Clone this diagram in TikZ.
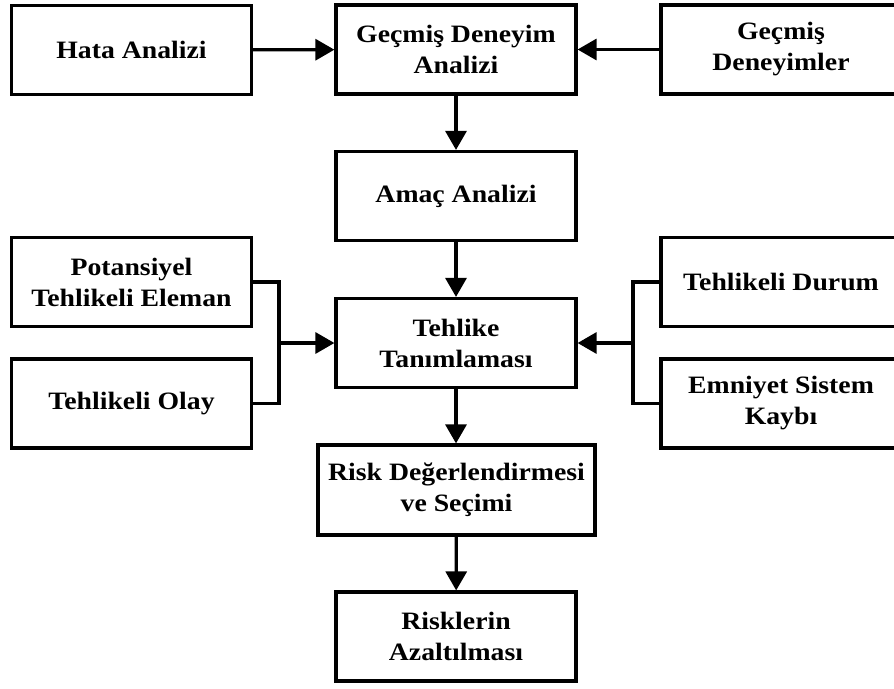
\documentclass[tikz,border=0pt]{standalone}
\usepackage{fontspec}
\setmainfont{Liberation Serif}[FakeStretch=1.11]
\usetikzlibrary{arrows.meta}
\begin{document}
\begin{tikzpicture}[x=1pt,y=-1pt,
  box/.style={draw, line width=3.2pt, align=center, inner sep=0pt,
    font=\fontsize{25}{31}\selectfont\bfseries},
  stdbox/.style={box, minimum width=240pt, minimum height=89pt},
  link/.style={line width=3.2pt},
  arrow/.style={link, -{Triangle[length=19pt,width=21pt]}}]
\useasboundingbox (0,0) rectangle (894,688);
\clip (0,0) rectangle (894,688);
\fill[white] (0,0) rectangle (894,688);

% left column
\node[stdbox] (hata) at (131.5,50) {Hata Analizi};
\node[stdbox] (pte)  at (131.5,282) {Potansiyel\\Tehlikeli Eleman};
\node[stdbox] (olay) at (131.5,403.5) {Tehlikeli Olay};

% main column
\node[stdbox] (gda)  at (456,49.5) {Geçmiş Deneyim\\Analizi};
\node[stdbox] (amac) at (456,196) {Amaç Analizi};
\node[stdbox] (tt)   at (456,343) {Tehlike\\Tanımlaması};
\node[box, minimum width=277pt, minimum height=90pt] (rds) at (456.5,490)
  {Risk Değerlendirmesi\\ve Seçimi};
\node[stdbox] (ra)   at (456,636.5) {Risklerin\\Azaltılması};

% right column
\node[stdbox] (gd)   at (781,49.5) {Geçmiş\\Deneyimler};
\node[stdbox] (durum) at (781,282) {Tehlikeli Durum};
\node[stdbox] (esk)  at (781,403.5) {Emniyet Sistem\\Kaybı};

% junction points of the side brackets
\coordinate (lj) at (279,343);
\coordinate (rj) at (633,343);

% connectors
\draw[arrow] (hata) -- (gda);
\draw[arrow] (gd) -- (gda);
\draw[arrow] (gda) -- (amac);
\draw[arrow] (amac) -- (tt);
\draw[arrow] (tt) -- (tt |- rds.north);
\draw[arrow] (rds) -- (ra);

\draw[link] (pte.east) -| (lj);
\draw[link] (olay.east) -| (lj);
\draw[arrow] (lj) -- (tt.west);

\draw[link] (durum.west) -| (rj);
\draw[link] (esk.west) -| (rj);
\draw[arrow] (rj) -- (tt.east);
\end{tikzpicture}
\end{document}
